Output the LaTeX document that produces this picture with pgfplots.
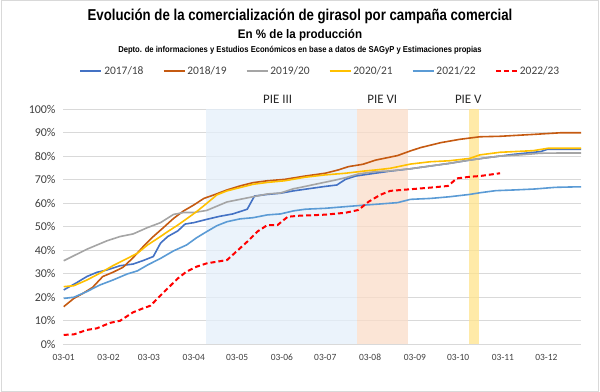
\documentclass[border=0pt]{standalone}
\usepackage{fontspec}
\setmainfont{Carlito}
\newfontfamily\titlefont{Liberation Sans}
\usepackage{graphicx}
\usepackage{pgfplots}
\pgfplotsset{compat=1.18}
\definecolor{sA}{HTML}{4472C4}
\definecolor{sB}{HTML}{C55A11}
\definecolor{sC}{HTML}{A5A5A5}
\definecolor{sD}{HTML}{FFC000}
\definecolor{sE}{HTML}{5B9BD5}
\definecolor{sF}{HTML}{FF0000}
\definecolor{gridc}{HTML}{D9D9D9}
\definecolor{tickc}{HTML}{404040}
\definecolor{shB}{RGB}{228,239,250}
\definecolor{shO}{RGB}{250,220,200}
\definecolor{shY}{RGB}{255,227,139}
\begin{document}
\begin{tikzpicture}
\path[use as bounding box] (0bp,0bp) rectangle (600bp,392bp);
\draw[gridc, line width=1bp] (1bp,1bp) rectangle (598.5bp,391bp);
\node[anchor=center] at (300bp,376bp) {\scalebox{0.84}[1]{\titlefont\bfseries\fontsize{15.8}{17}\selectfont Evolución de la comercialización de girasol por campaña comercial}};
\node[anchor=center] at (300bp,357bp) {\scalebox{0.93}[1]{\titlefont\bfseries\fontsize{12.5}{14}\selectfont En \% de la producción}};
\node[anchor=center] at (300bp,342bp) {\scalebox{0.89}[1]{\titlefont\bfseries\fontsize{8.6}{10}\selectfont Depto. de informaciones y Estudios Económicos en base a datos de SAGyP y Estimaciones propias}};
\begin{axis}[
  at={(63bp,47.7bp)}, anchor=south west,
  scale only axis, width=518bp, height=235.3bp,
  xmin=2.5, xmax=361, ymin=0, ymax=100,
  clip=false,
  axis line style={draw=none},
  major tick length=0pt,
  ymajorgrids, grid style={gridc, line width=0.8bp},
  ytick={0,10,...,100},
  yticklabel={\pgfmathprintnumber{\tick}\%},
  xtick={3,34,62,93,123,154,184,215,246,276,307,337},
  xticklabels={03-01,03-02,03-03,03-04,03-05,03-06,03-07,03-08,03-09,03-10,03-11,03-12},
  /pgf/number format/assume math mode=true,
  yticklabel style={font=\fontsize{12}{14}\selectfont, text=tickc, xshift=-4bp},
  xticklabel style={font=\fontsize{9.5}{11}\selectfont, text=tickc, yshift=-6.5bp},
  legend columns=6,
  legend style={draw=none, fill=none, at={(axis description cs:0.497,1.1615)}, anchor=center,
    font=\fontsize{11.5}{13}\selectfont, text=tickc,
    /tikz/every even column/.append style={column sep=17.2bp}},
  legend image code/.code={\draw[#1,line cap=butt] (0bp,0bp) -- (21bp,0bp);},
  every axis plot/.append style={line width=1.6bp, line join=round},
]
\addplot[draw=none, fill=shB, fill opacity=0.75, forget plot] coordinates {(101.6,0) (206,0) (206,100) (101.6,100)} -- cycle;
\addplot[draw=none, fill=shO, fill opacity=0.75, forget plot] coordinates {(206,0) (241,0) (241,100) (206,100)} -- cycle;
\addplot[draw=none, fill=shY, fill opacity=0.75, forget plot] coordinates {(283.6,0) (290.5,0) (290.5,100) (283.6,100)} -- cycle;

\addplot[sA] coordinates {(3,23.1) (12,26.2) (19,28.8) (26,30.6) (33,31.6) (42,33.4) (51,34.1) (58,35.6) (65,37.3) (70,43) (75,45.8) (82,48.2) (87,51.1) (93,51.7) (102,53.1) (111,54.4) (120,55.4) (130,57.4) (135,63) (144,63.7) (153,64.2) (162,65.2) (170,65.9) (184,67.1) (192,67.7) (198,70.1) (205,71.5) (215,72.4) (229,73.6) (243,74.6) (257,75.8) (270,76.9) (284,78.3) (296,79.3) (314,80.7) (333,81.9) (338,82.9) (361,82.9)};
\addlegendentry{2017/18}
\addplot[sB] coordinates {(3,16) (10,19.5) (16.5,21.7) (23,24.2) (30,28.8) (37,30.6) (44,32.7) (51,36.8) (58,41.5) (65,45.8) (72,49.6) (79,53.5) (86,56.7) (93,59.2) (100,62) (107,63.5) (116,65.6) (125,67.3) (134,68.7) (144,69.5) (156,70.1) (170,71.5) (184,72.7) (193,74.1) (200,75.5) (210,76.5) (219,78.3) (234,80.2) (243,82.2) (250,83.6) (264,85.7) (277,87.1) (291,88.2) (305,88.4) (328,89.2) (347,89.9) (361,89.9)};
\addlegendentry{2018/19}
\addplot[sC] coordinates {(3,35.5) (19,40.4) (33,44) (42,45.8) (51,46.9) (61,49.6) (70,51.7) (79,55.2) (86,56) (93,56) (102,56.9) (116,60.5) (125,61.6) (134,62.7) (144,63.9) (153,64.3) (162,66.1) (167,66.7) (177,68) (191,69.8) (198,70.8) (207,72.4) (219,73.4) (229,73.7) (243,74.6) (257,75.8) (270,76.9) (284,78.3) (296,79.3) (305,80) (319,80.5) (333,81.2) (347,81.3) (361,81.3)};
\addlegendentry{2019/20}
\addplot[sD] coordinates {(3,24.5) (10,24.9) (19,27.3) (28,30.2) (37,33.4) (47,36.5) (54,38.7) (61,42.2) (68,45) (75,47.9) (82,50.7) (88,53.3) (95,56.4) (102,59.9) (109,63.5) (116,65.2) (125,66.6) (134,68) (144,68.8) (156,69.5) (170,71) (184,72) (198,72.7) (212,73.7) (219,74.1) (229,74.8) (243,76.6) (257,77.6) (270,78) (284,79) (291,80.5) (305,81.6) (328,82.3) (338,83.3) (361,83.3)};
\addlegendentry{2020/21}
\addplot[sE] coordinates {(3,19.5) (10,20) (19,22.4) (28,25.2) (37,27.3) (47,29.9) (54,31.2) (61,33.7) (70,36.5) (79,39.7) (88,42.2) (95,45.3) (102,47.9) (109,50.4) (116,52.1) (125,53.3) (134,53.8) (144,55) (153,55.4) (162,56.7) (170,57.4) (184,57.8) (198,58.5) (212,59.2) (219,59.5) (234,60.2) (243,61.6) (257,62) (270,62.7) (284,63.7) (291,64.4) (302,65.3) (315,65.6) (329,66) (343,66.7) (357,66.9) (361,66.9)};
\addlegendentry{2021/22}
\addplot[sF, dash pattern=on 5bp off 3bp, line width=2bp] coordinates {(3,4) (10,4.2) (19,6.1) (26,6.8) (35,9.1) (42,10) (51,13.6) (58,15.3) (63,16.4) (68,19.5) (75,23.8) (82,28) (88,30.9) (95,33) (102,34.4) (109,35.1) (116,35.8) (123,39.7) (130,43.6) (137,47.9) (144,50.7) (151,50.7) (158,54.2) (167,54.7) (177,54.9) (184,55.1) (198,55.9) (207,57.1) (214,60.6) (222,63.5) (229,65.2) (243,65.9) (257,66.6) (269,67.3) (275,70.5) (284,71.2) (291,71.5) (305,72.7)};
\addlegendentry{2022/23}

\node[anchor=base, font=\fontsize{13}{15}\selectfont, text=black!85] at (axis cs:151,102.5) {PIE III};
\node[anchor=base, font=\fontsize{13}{15}\selectfont, text=black!85] at (axis cs:223.5,102.5) {PIE VI};
\node[anchor=base, font=\fontsize{13}{15}\selectfont, text=black!85] at (axis cs:283,102.5) {PIE V};
\end{axis}
\end{tikzpicture}
\end{document}
